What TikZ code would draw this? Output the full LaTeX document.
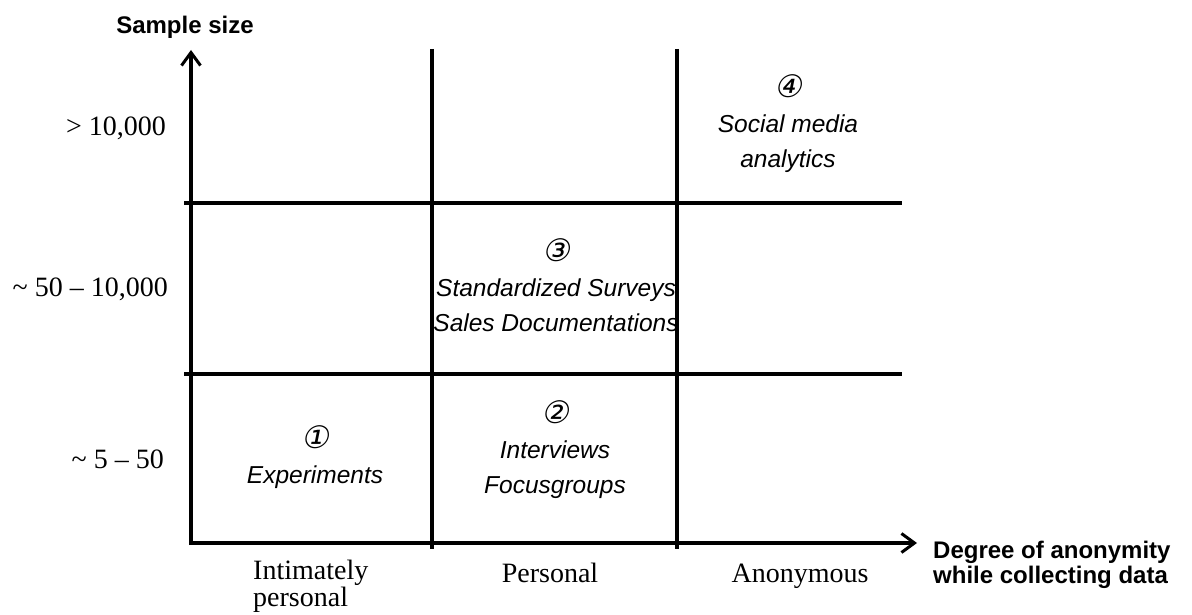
\documentclass[tikz,border=0pt]{standalone}
\usepackage{fontspec}
\setmainfont{Liberation Serif}
\newfontfamily\arial{Liberation Sans}
\newfontfamily\circfont[FakeSlant=0.2]{DejaVu Sans}
\usetikzlibrary{arrows.meta}
\tikzset{
  axis/.style={line width=3.2pt, -{Straight Barb[length=13pt,width=19pt,line width=3pt]}},
  grid/.style={line width=3.2pt},
  cell/.style={font=\arial\itshape\fontsize{24.5}{35}\selectfont, align=center, inner sep=0pt},
  ylabel/.style={font=\fontsize{28}{30}\selectfont, anchor=base east, inner sep=0pt},
  xlabel/.style={font=\fontsize{28}{24}\selectfont, inner sep=0pt, anchor=base},
  title/.style={font=\arial\bfseries\fontsize{24}{25}\selectfont, inner sep=0pt}
}
\newcommand{\circnum}[1]{{\circfont\fontsize{31}{31}\selectfont #1}}
\begin{document}
\begin{tikzpicture}[x=1pt,y=-1pt]
\useasboundingbox (0,0) rectangle (1192,615);
% axes
\coordinate (O) at (189,543);
\coordinate (Ystart) at (191,545);
\coordinate (Ytip) at (191,50);
\coordinate (Xtip) at (917,543);
\draw[axis] (Ystart) -- (Ytip);
\draw[axis] (O) -- (Xtip);
% grid lines
\coordinate (v1t) at (432,49); \coordinate (v1b) at (432,549);
\coordinate (v2t) at (677,49); \coordinate (v2b) at (677,549);
\coordinate (h1l) at (184,203); \coordinate (h1r) at (902,203);
\coordinate (h2l) at (184,374); \coordinate (h2r) at (902,374);
\draw[grid] (v1t) -- (v1b);
\draw[grid] (v2t) -- (v2b);
\draw[grid] (h1l) -- (h1r);
\draw[grid] (h2l) -- (h2r);
% axis titles
\node[title] (ytitle) at (185,27) {Sample size};
\node[title, align=left, anchor=west] (xtitle) at (933,565) {Degree of anonymity\\while collecting data};
% y labels
\node[ylabel] (y3) at (166,136) {> 10,000};
\node[ylabel] (y2) at (168,296) {\textasciitilde\ 50 -- 10,000};
\node[ylabel] (y1) at (164,468) {\textasciitilde\ 5 -- 50};
% x labels
\node[xlabel, align=left, anchor=base west] (x1) at (253,606) {Intimately\\personal};
\node[xlabel] (x2) at (550,582) {Personal};
\node[xlabel] (x3) at (800,582) {Anonymous};
% cells
\node[cell] (c1) at (315,457) {\circnum{①}\\Experiments};
\node[cell] (c2) at (555,450) {\circnum{②}\\Interviews\\Focusgroups};
\node[cell] (c3) at (556,285) {\circnum{③}\\Standardized Surveys\\Sales Documentations};
\node[cell] (c4) at (788,124) {\circnum{④}\\Social media\\analytics};
\end{tikzpicture}
\end{document}
